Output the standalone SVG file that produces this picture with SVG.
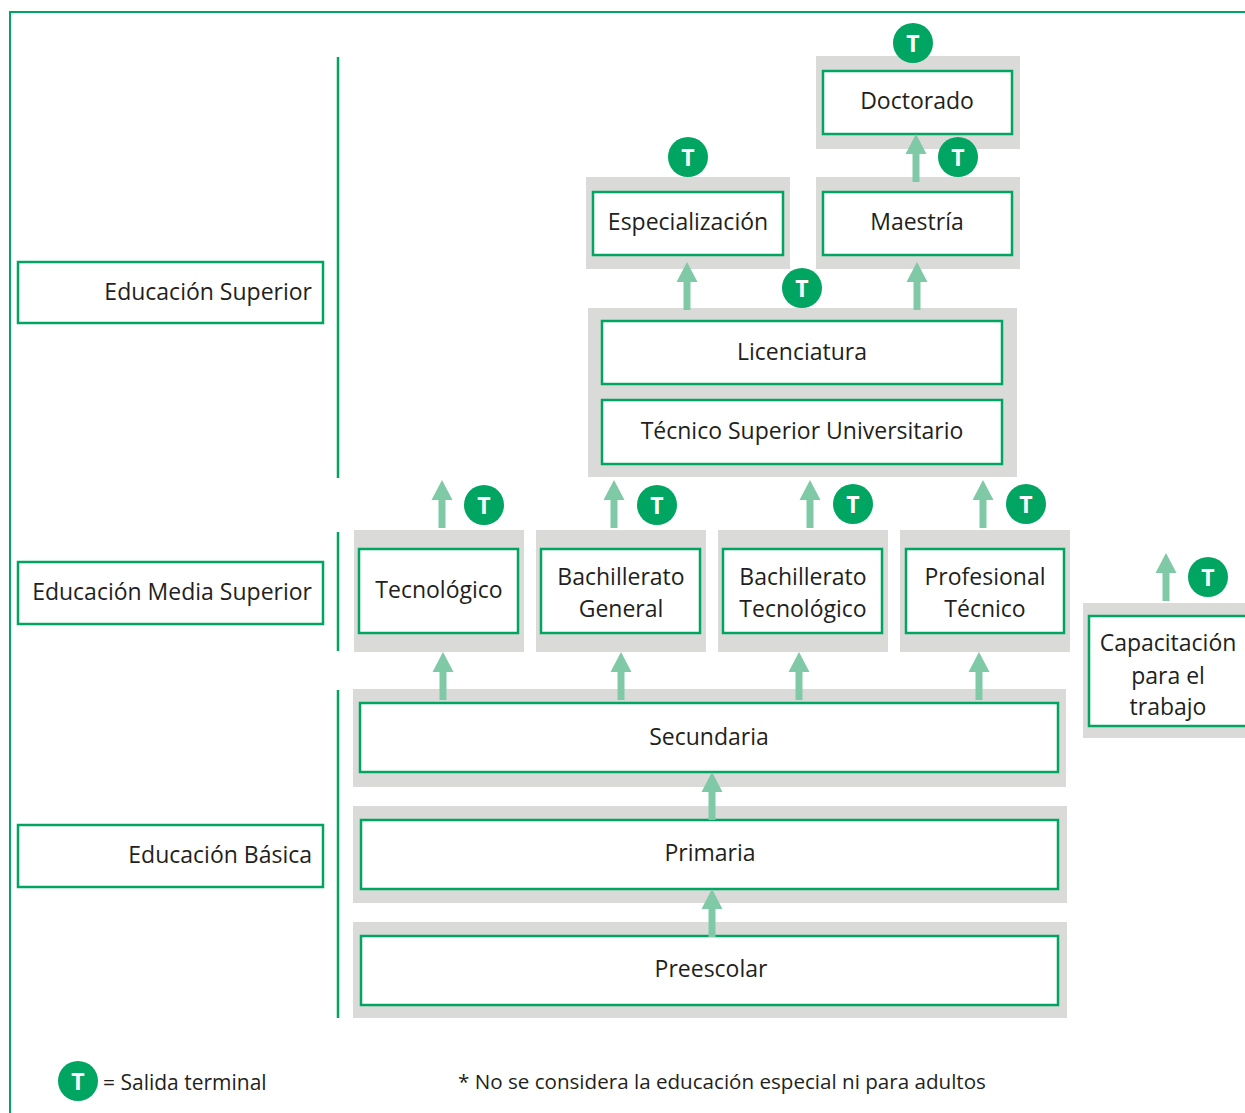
<svg xmlns="http://www.w3.org/2000/svg" xmlns:xlink="http://www.w3.org/1999/xlink" width="1245" height="1113" viewBox="0 0 1245 1113">
<style>
.bg{fill:#ffffff}
.frame{fill:none;stroke:#00a562;stroke-width:2}
.sep{fill:none;stroke:#00a562;stroke-width:2.5}
.grey{fill:#dadad9}
.box{fill:#ffffff;stroke:#00a562;stroke-width:2.5}
.lbl{font-family:"Open Sans","Noto Sans","Liberation Sans",sans-serif;font-size:23px;fill:#231f20}
.leg{font-family:"Open Sans","Noto Sans","Liberation Sans",sans-serif;font-size:21px;fill:#231f20}
.note{font-family:"Open Sans","Noto Sans","Liberation Sans",sans-serif;font-size:20.6px;fill:#231f20}
.c{text-anchor:middle}
.r{text-anchor:end}
.arr{fill:#80c9a6}
.tc{fill:#00a562}
.tt{font-family:"Open Sans","Noto Sans","Liberation Sans",sans-serif;font-size:23px;font-weight:bold;fill:#ffffff;text-anchor:middle}
</style>
<defs>
<path id="up" d="M0,0 L10.5,20 L3.5,20 L3.5,48 L-3.5,48 L-3.5,20 L-10.5,20 Z"/>
</defs>
<rect class="bg" x="0" y="0" width="1245" height="1113"/>
<path class="frame" d="M10,1113 V12 H1245"/>
<g id="separators">
<line class="sep" x1="338" y1="57" x2="338" y2="478"/>
<line class="sep" x1="338" y1="532" x2="338" y2="651"/>
<line class="sep" x1="338" y1="690" x2="338" y2="1018"/>
</g>
<g id="level-superior">
<rect class="box" x="18" y="262" width="305" height="61"/>
<text class="lbl r" x="312" y="300">Educación Superior</text>
</g>
<g id="level-media">
<rect class="box" x="18" y="562" width="305" height="62"/>
<text class="lbl r" x="312" y="600">Educación Media Superior</text>
</g>
<g id="level-basica">
<rect class="box" x="18" y="825" width="305" height="62"/>
<text class="lbl r" x="312" y="863">Educación Básica</text>
</g>
<g id="doctorado">
<rect class="grey" x="816" y="56" width="204" height="93"/>
<rect class="box" x="823" y="71" width="189" height="63"/>
<text class="lbl c" x="917" y="109">Doctorado</text>
</g>
<g id="especializacion">
<rect class="grey" x="586" y="177" width="204" height="92"/>
<rect class="box" x="593" y="192" width="190" height="63"/>
<text class="lbl c" x="688" y="230">Especialización</text>
</g>
<g id="maestria">
<rect class="grey" x="816" y="177" width="204" height="92"/>
<rect class="box" x="823" y="192" width="189" height="63"/>
<text class="lbl c" x="917" y="230">Maestría</text>
</g>
<g id="licenciatura-tsu">
<rect class="grey" x="588" y="308" width="429" height="169"/>
<rect class="box" x="602" y="321" width="400" height="63"/>
<text class="lbl c" x="802" y="360">Licenciatura</text>
<rect class="box" x="602" y="400" width="400" height="64"/>
<text class="lbl c" x="802" y="439">Técnico Superior Universitario</text>
</g>
<g id="tecnologico">
<rect class="grey" x="354" y="530" width="170" height="122"/>
<rect class="box" x="359" y="549" width="159" height="84"/>
<text class="lbl c" x="439" y="598">Tecnológico</text>
</g>
<g id="bachillerato-general">
<rect class="grey" x="536" y="530" width="170" height="122"/>
<rect class="box" x="541" y="549" width="159" height="84"/>
<text class="lbl c" x="621" y="585">Bachillerato</text>
<text class="lbl c" x="621" y="617">General</text>
</g>
<g id="bachillerato-tecnologico">
<rect class="grey" x="718" y="530" width="170" height="122"/>
<rect class="box" x="723" y="549" width="159" height="84"/>
<text class="lbl c" x="803" y="585">Bachillerato</text>
<text class="lbl c" x="803" y="617">Tecnológico</text>
</g>
<g id="profesional-tecnico">
<rect class="grey" x="900" y="530" width="170" height="122"/>
<rect class="box" x="906" y="549" width="158" height="84"/>
<text class="lbl c" x="985" y="585">Profesional</text>
<text class="lbl c" x="985" y="617">Técnico</text>
</g>
<g id="capacitacion">
<rect class="grey" x="1083" y="603" width="170" height="135"/>
<rect class="box" x="1089" y="616" width="170" height="110"/>
<text class="lbl c" x="1168" y="651">Capacitación</text>
<text class="lbl c" x="1168" y="684">para el</text>
<text class="lbl c" x="1168" y="715">trabajo</text>
</g>
<g id="secundaria">
<rect class="grey" x="353" y="689" width="713" height="98"/>
<rect class="box" x="360" y="703" width="698" height="69"/>
<text class="lbl c" x="709" y="745">Secundaria</text>
</g>
<g id="primaria">
<rect class="grey" x="353" y="806" width="714" height="97"/>
<rect class="box" x="361" y="820" width="697" height="69"/>
<text class="lbl c" x="710" y="861">Primaria</text>
</g>
<g id="preescolar">
<rect class="grey" x="353" y="922" width="714" height="96"/>
<rect class="box" x="361" y="936" width="697" height="69"/>
<text class="lbl c" x="711" y="977">Preescolar</text>
</g>
<g id="connectors">
<use class="arr" xlink:href="#up" href="#up" x="916" y="134"/>
<use class="arr" xlink:href="#up" href="#up" x="687" y="262"/>
<use class="arr" xlink:href="#up" href="#up" x="917" y="262"/>
<use class="arr" xlink:href="#up" href="#up" x="442" y="480"/>
<use class="arr" xlink:href="#up" href="#up" x="614" y="480"/>
<use class="arr" xlink:href="#up" href="#up" x="810" y="480"/>
<use class="arr" xlink:href="#up" href="#up" x="983" y="480"/>
<use class="arr" xlink:href="#up" href="#up" x="1166" y="553"/>
<use class="arr" xlink:href="#up" href="#up" x="443" y="652"/>
<use class="arr" xlink:href="#up" href="#up" x="621" y="652"/>
<use class="arr" xlink:href="#up" href="#up" x="799" y="652"/>
<use class="arr" xlink:href="#up" href="#up" x="979" y="652"/>
<use class="arr" xlink:href="#up" href="#up" x="712" y="772"/>
<use class="arr" xlink:href="#up" href="#up" x="712" y="889"/>
</g>
<g id="terminals">
<circle class="tc" cx="913" cy="43" r="20"/><text class="tt" x="913" y="52">T</text>
<circle class="tc" cx="688" cy="157" r="20"/><text class="tt" x="688" y="166">T</text>
<circle class="tc" cx="958" cy="157" r="20"/><text class="tt" x="958" y="166">T</text>
<circle class="tc" cx="802" cy="288" r="20"/><text class="tt" x="802" y="297">T</text>
<circle class="tc" cx="484" cy="505" r="20"/><text class="tt" x="484" y="514">T</text>
<circle class="tc" cx="657" cy="505" r="20"/><text class="tt" x="657" y="514">T</text>
<circle class="tc" cx="853" cy="504" r="20"/><text class="tt" x="853" y="513">T</text>
<circle class="tc" cx="1026" cy="504" r="20"/><text class="tt" x="1026" y="513">T</text>
<circle class="tc" cx="1208" cy="577" r="20"/><text class="tt" x="1208" y="586">T</text>
</g>
<g id="legend">
<circle class="tc" cx="78" cy="1081" r="20"/><text class="tt" x="78" y="1090">T</text>
<text class="leg" x="103" y="1090">= Salida terminal</text>
<text class="note" x="458" y="1089">* No se considera la educación especial ni para adultos</text>
</g>
</svg>
